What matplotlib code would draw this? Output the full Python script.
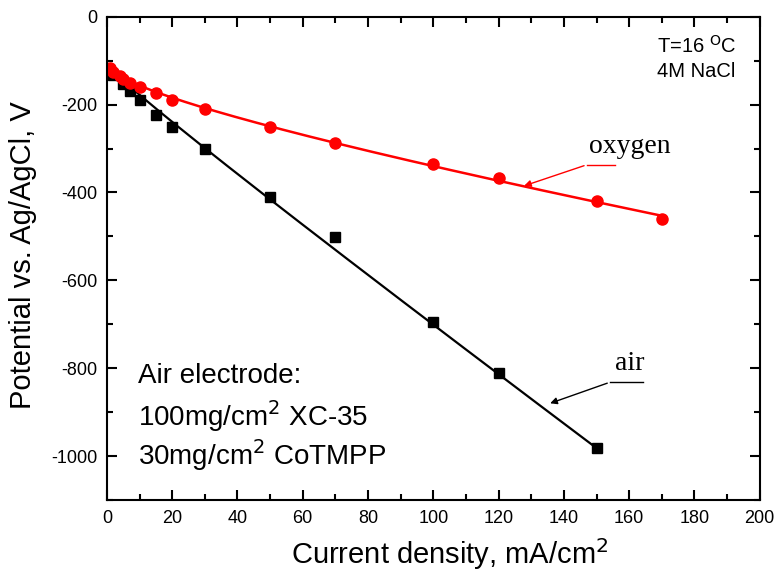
import numpy as np
import matplotlib
matplotlib.use("Agg")
import matplotlib.pyplot as plt
from matplotlib.ticker import MultipleLocator

plt.rcParams["font.family"] = ["Liberation Sans", "DejaVu Sans"]
plt.rcParams["axes.unicode_minus"] = False

air_x = [2, 5, 7, 10, 15, 20, 30, 50, 70, 100, 120, 150]
air_y = [-132, -153, -169, -189, -223, -251, -301, -410, -501, -695, -811, -982]

oxy_x = [1, 2, 4, 5, 7, 10, 15, 20, 30, 50, 70, 100, 120, 150, 170]
oxy_y = [-117, -125, -134, -142, -150, -160, -174, -189, -210, -250, -287, -335, -367, -419, -460]

# fitted curves as seen in the picture: a + b*x + c*sqrt(x)
air_fit = (-104, -5.33, -6.4)
oxy_fit = (-105, -1.05, -13.0)


def curve(p, x):
    return p[0] + p[1] * x + p[2] * np.sqrt(x)


fig = plt.figure(figsize=(7.8, 5.78), dpi=100)
ax = fig.add_axes([0.137, 0.135, 0.837, 0.836])

xa = np.linspace(0, max(air_x), 300)
ax.plot(xa, curve(air_fit, xa), color="black", lw=1.6)
ax.plot(air_x, air_y, "s", color="black", ms=7)

xo = np.linspace(0, max(oxy_x), 300)
ax.plot(xo, curve(oxy_fit, xo), color="red", lw=1.8)
ax.plot(oxy_x, oxy_y, "o", color="red", ms=8)

ax.set_xlim(0, 200)
ax.set_ylim(-1100, 0)
ax.xaxis.set_major_locator(MultipleLocator(20))
ax.xaxis.set_minor_locator(MultipleLocator(10))
ax.yaxis.set_major_locator(MultipleLocator(200))
ax.yaxis.set_minor_locator(MultipleLocator(100))
ax.tick_params(which="both", direction="in", top=True, right=True, width=1.5, labelsize=13)
ax.tick_params(which="major", length=7, pad=7)
ax.tick_params(which="minor", length=4)
for s in ax.spines.values():
    s.set_linewidth(1.5)

ax.set_xlabel("Current density, mA/cm$^2$", fontsize=21)
ax.set_ylabel("Potential vs. Ag/AgCl, V", fontsize=21)
ax.xaxis.set_label_coords(0.525, -0.075)
ax.yaxis.set_label_coords(-0.107, 0.507)

ax.text(168.4, -66, "T=16 $^{\\rm O}$C", fontsize=14.5, ha="left", va="center")
ax.text(168.4, -125, "4M NaCl", fontsize=14.5, ha="left", va="center")

ax.text(9.5, -818, "Air electrode:", fontsize=20, ha="left", va="center")
ax.text(9.5, -909, "100mg/cm$^2$ XC-35", fontsize=20, ha="left", va="center")
ax.text(9.5, -998, "30mg/cm$^2$ CoTMPP", fontsize=20, ha="left", va="center")

# annotation leaders
ax.plot([155.6, 147], [-337, -337], color="red", lw=1)
ax.annotate("", xy=(127, -387), xytext=(147, -337),
            arrowprops=dict(arrowstyle="-|>", color="red", lw=1, mutation_scale=10))
ax.text(160.3, -295, "oxygen", family="Liberation Serif", fontsize=20, ha="center", va="center")

ax.plot([164.2, 154.1], [-832, -832], color="black", lw=1)
ax.annotate("", xy=(135, -882), xytext=(154.1, -832),
            arrowprops=dict(arrowstyle="-|>", color="black", lw=1, mutation_scale=10))
ax.text(160.2, -790, "air", family="Liberation Serif", fontsize=20, ha="center", va="center")

fig.savefig("out.png", dpi=100)
